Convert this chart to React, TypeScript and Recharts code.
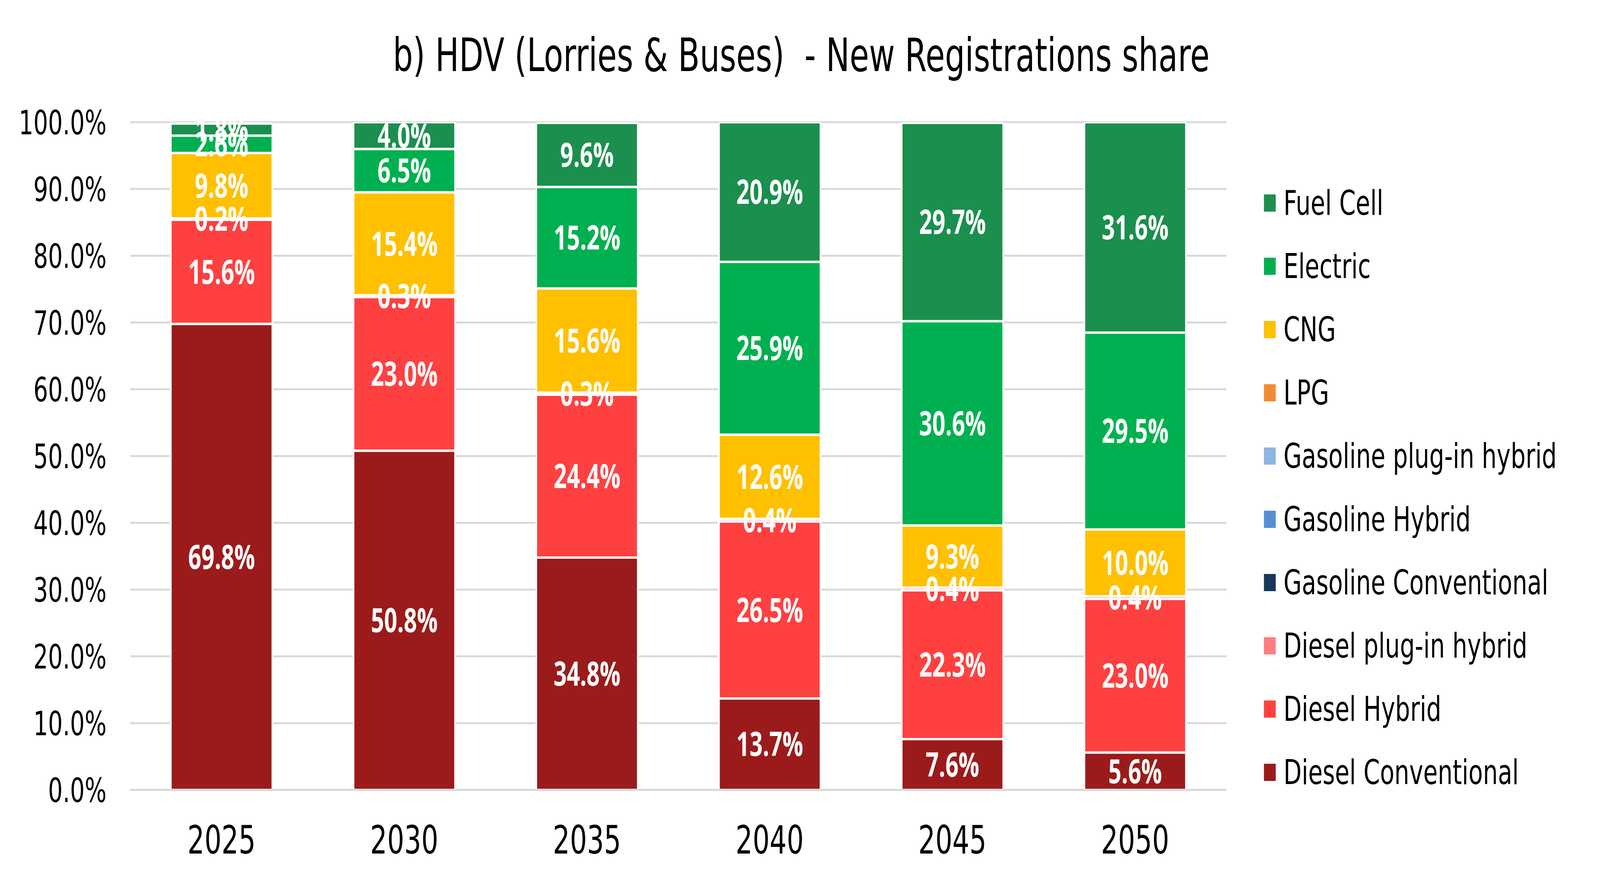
import React from 'react';
import { BarChart, Bar, XAxis, YAxis, CartesianGrid, Legend, LabelList } from 'recharts';

const years = ['2025', '2030', '2035', '2040', '2045', '2050'];
const dieselConventional = [69.8, 50.8, 34.8, 13.7, 7.6, 5.6];
const dieselHybrid = [15.6, 23.0, 24.4, 26.5, 22.3, 23.0];
const dieselPlugIn = [0.2, 0.3, 0.3, 0.4, 0.4, 0.4];
const gasolineConventional = [0, 0, 0, 0, 0, 0];
const gasolineHybrid = [0, 0, 0, 0, 0, 0];
const gasolinePlugIn = [0, 0, 0, 0, 0, 0];
const lpg = [0, 0, 0, 0, 0, 0];
const cng = [9.8, 15.4, 15.6, 12.6, 9.3, 10.0];
const electric = [2.6, 6.5, 15.2, 25.9, 30.6, 29.5];
const fuelCell = [1.8, 4.0, 9.6, 20.9, 29.7, 31.6];
const yTicks = [0, 10, 20, 30, 40, 50, 60, 70, 80, 90, 100];
const title = 'b) HDV (Lorries & Buses)  - New Registrations share';

const series = [
  { key: 'dc', name: 'Diesel Conventional', color: '#9b1b1b', values: dieselConventional },
  { key: 'dh', name: 'Diesel Hybrid', color: '#ff4040', values: dieselHybrid },
  { key: 'dp', name: 'Diesel plug-in hybrid', color: '#ff7c80', values: dieselPlugIn },
  { key: 'gc', name: 'Gasoline Conventional', color: '#17375e', values: gasolineConventional },
  { key: 'gh', name: 'Gasoline Hybrid', color: '#558ed5', values: gasolineHybrid },
  { key: 'gp', name: 'Gasoline plug-in hybrid', color: '#8eb4e3', values: gasolinePlugIn },
  { key: 'lpg', name: 'LPG', color: '#f28c34', values: lpg },
  { key: 'cng', name: 'CNG', color: '#ffc000', values: cng },
  { key: 'el', name: 'Electric', color: '#00b050', values: electric },
  { key: 'fc', name: 'Fuel Cell', color: '#1b8f4e', values: fuelCell },
];

const data = years.map((y, i) => {
  const row: Record<string, any> = { year: y };
  series.forEach((s) => {
    row[s.key] = s.values[i];
  });
  return row;
});

const PAGE_W = 5975;
const PAGE_H = 2264;
const W = 5959;
const H = 2248;

const LegendContent = () => (
  <div style={{ display: 'flex', flexDirection: 'column' }}>
    {[...series].reverse().map((s) => (
      <div key={s.key} style={{ display: 'flex', alignItems: 'center', height: 162 }}>
        <div style={{ width: 44, height: 44, background: s.color, marginRight: 29, flexShrink: 0 }} />
        <span style={{ fontFamily: 'DejaVu Sans', fontSize: 88, color: '#000', whiteSpace: 'nowrap', lineHeight: 1 }}>{s.name}</span>
      </div>
    ))}
  </div>
);

function getScales() {
  if (typeof window === 'undefined') return { sx: 1, sy: 1 };
  const sx = window.innerWidth / PAGE_W;
  const sy = window.innerHeight / PAGE_H;
  return { sx: sx > 0 ? sx : 1, sy: sy > 0 ? sy : 1 };
}

export default function App() {
  const { sx, sy } = getScales();
  return (
    <div
      style={{
        position: 'fixed',
        left: 0,
        top: 0,
        width: PAGE_W * sx,
        height: PAGE_H * sy,
        overflow: 'hidden',
        background: '#fff',
      }}
    >
      <div style={{ width: PAGE_W, height: PAGE_H, transform: `scale(${sx}, ${sy})`, transformOrigin: '0 0', position: 'relative' }}>
        <div style={{ position: 'absolute', left: 8, top: 8, width: W, height: H }}>
          <BarChart
            width={W}
            height={H}
            data={data}
            margin={{ top: 305, right: 1387, bottom: 33, left: 0 }}
            barSize={379}
          >
            <CartesianGrid vertical={false} stroke="#d9d9d9" strokeWidth={5} />
            <XAxis
              dataKey="year"
              height={200}
              axisLine={{ stroke: '#d9d9d9', strokeWidth: 5 }}
              tickLine={false}
              tickSize={0}
              tickMargin={92}
              tick={{ fontFamily: 'DejaVu Sans', fontSize: 100, fill: '#000' }}
            />
            <YAxis
              width={478}
              domain={[0, 100]}
              allowDataOverflow
              ticks={yTicks}
              interval={0}
              axisLine={false}
              tickLine={false}
              tickSize={0}
              tickMargin={88}
              tickFormatter={(v: number) => v.toFixed(1) + '%'}
              tick={{ fontFamily: 'DejaVu Sans', fontSize: 86, fill: '#000' }}
            />
            <Legend
              layout="vertical"
              align="center"
              verticalAlign="middle"
              content={<LegendContent />}
              wrapperStyle={{ left: 4712, top: 431, width: 1240 }}
            />
            {series.map((sr) => (
              <Bar
                key={sr.key}
                dataKey={sr.key}
                name={sr.name}
                stackId="a"
                fill={sr.color}
                stroke="#ffffff"
                strokeWidth={6}
                isAnimationActive={false}
              >
                <LabelList
                  dataKey={sr.key}
                  position="center"
                  formatter={(v: any) => (Number(v) > 0 ? Number(v).toFixed(1) + '%' : '')}
                  fill="#ffffff"
                  style={{ fontFamily: 'Open Sans', fontSize: 86, fontWeight: 700 }}
                />
              </Bar>
            ))}
          </BarChart>
          <svg width={W} height={300} style={{ position: 'absolute', left: 0, top: 0, pointerEvents: 'none' }}>
            <text
              x={2984}
              y={174}
              textAnchor="middle"
              fontFamily="DejaVu Sans"
              fontSize={118}
              fill="#000"
              style={{ whiteSpace: 'pre' }}
            >
              {title}
            </text>
          </svg>
        </div>
      </div>
    </div>
  );
}
